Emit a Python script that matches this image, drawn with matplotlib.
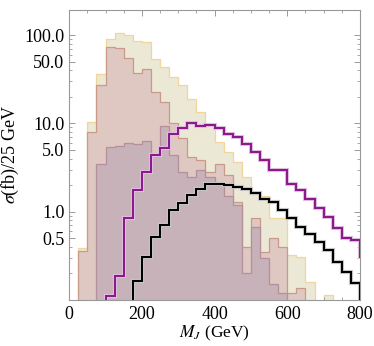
import numpy as np
import matplotlib
matplotlib.use("Agg")
import matplotlib.pyplot as plt
from matplotlib.ticker import FixedLocator, FixedFormatter, NullFormatter

# bins of 25 GeV from 0 to 800 (purple has one extra bin past 800)
edges = np.arange(0, 825, 25)
edges_ext = np.arange(0, 850, 25)

beige = [0, 0.39, 10.3, 36, 91, 107, 100, 85, 83, 54, 44, 33.7, 27.5, 18.8, 13.6, 9.5,
         6.2, 4.8, 3.7, 2.5, 1.6, 1.5, 0.85, 0.85, 0.32, 0.31, 0.16, 0, 0.114, 0, 0, 0]
pink = [0, 0.36, 7.9, 27, 72.6, 70.7, 54.5, 37, 41, 22.8, 17.6, 10.0, 6.8, 4.2, 3.9, 2.8,
        3.5, 2.6, 1.3, 0.4, 0.84, 0.35, 0.5, 0.4, 0.12, 0.137, 0, 0, 0, 0, 0, 0]
mauve = [0, 0, 0, 3.46, 5.43, 5.58, 5.94, 5.78, 6.3, 4.3, 9.4, 4.38, 2.83, 2.5, 3.0, 2.5,
         2.0, 1.5, 1.2, 0.2, 0.67, 0.3, 0.15, 0.12, 0, 0, 0, 0, 0, 0, 0, 0]
purple = [0, 0, 0, 0, 0.11, 0.187, 0.84, 1.76, 2.83, 4.38, 5.2, 7.5, 8.9, 10.2, 9.3, 9.5,
          8.9, 7.5, 7.05, 5.8, 4.7, 3.85, 3.0, 2.96, 2.05, 1.76, 1.38, 1.09, 0.875, 0.647,
          0.5, 0.477, 0.31]
black = [0, 0, 0, 0, 0, 0, 0, 0.162, 0.306, 0.516, 0.715, 1.04, 1.26, 1.56, 1.79, 2.05,
         2.05, 2.03, 1.91, 1.79, 1.61, 1.39, 1.29, 1.04, 0.846, 0.675, 0.553, 0.456, 0.368,
         0.271, 0.206, 0.154]

y_major = [0.5, 1, 5, 10, 50, 100]
y_labels = ["0.5", "1.0", "5.0", "10.0", "50.0", "100.0"]
x_major = [0, 200, 400, 600, 800]

plt.rcParams['font.family'] = ['Liberation Serif', 'DejaVu Serif']
plt.rcParams['mathtext.fontset'] = 'stix'

fig = plt.figure(figsize=(3.74, 3.46), dpi=100)
ax = fig.add_axes([0.185, 0.133, 0.7775, 0.8395])
ax.set_yscale('log')

floor = 1e-3


def clip(v):
    return np.clip(np.asarray(v, dtype=float), floor, None)


ax.stairs(clip(beige), edges, baseline=floor, fill=True, color='#ece8d6', zorder=1)
ax.stairs(clip(beige), edges, baseline=floor, color='#f2d49c', lw=0.9, zorder=1.1)
ax.stairs(clip(pink), edges, baseline=floor, fill=True, color='#dfc7c2', zorder=2)
ax.stairs(clip(pink), edges, baseline=floor, color='#c99a88', lw=0.9, zorder=2.1)
ax.stairs(clip(mauve), edges, baseline=floor, fill=True, color='#c6b2b8', zorder=3)
ax.stairs(clip(mauve), edges, baseline=floor, color='#b58f9a', lw=0.9, zorder=3.1)

ax.stairs(clip(purple), edges_ext, baseline=floor, color='#e3c4e3', lw=3.0, zorder=4)
ax.stairs(clip(purple), edges_ext, baseline=floor, color='#8b1a8b', lw=1.5, zorder=4.1)
ax.stairs(clip(black), edges, baseline=floor, color='#cccccc', lw=3.0, zorder=5)
ax.stairs(clip(black), edges, baseline=floor, color='black', lw=1.5, zorder=5.1)

ax.set_xlim(0, 800)
ax.set_ylim(0.1, 195)

ax.xaxis.set_major_locator(FixedLocator(x_major))
ax.xaxis.set_minor_locator(FixedLocator(np.arange(0, 801, 50)))
ax.yaxis.set_major_locator(FixedLocator(y_major))
ax.yaxis.set_major_formatter(FixedFormatter(y_labels))
minor_y = [m * d for d in (0.1, 1, 10, 100) for m in range(1, 10)]
ax.yaxis.set_minor_locator(FixedLocator(minor_y))
ax.yaxis.set_minor_formatter(NullFormatter())

for s in ax.spines.values():
    s.set_color('#999999')
    s.set_linewidth(0.8)
    s.set_zorder(10)
ax.tick_params(which='both', direction='in', top=True, right=True, color='#999999',
               labelsize=13, labelcolor='black')
ax.tick_params(which='major', length=4.5, width=0.7)
ax.tick_params(which='minor', length=2.5, width=0.6)
ax.tick_params(axis='x', pad=4)

ax.set_xlabel(r'$M_J$ (GeV)', fontsize=12.5, labelpad=1)
ax.set_ylabel(r'$\sigma$(fb)/25 GeV', fontsize=13, labelpad=2)

fig.savefig('out.png', dpi=100)
